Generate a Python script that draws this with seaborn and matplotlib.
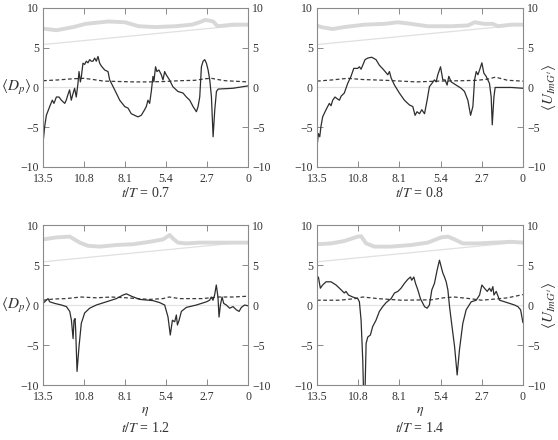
import matplotlib
matplotlib.use("Agg")
import matplotlib.pyplot as plt
import seaborn as sns

# x ticks (eta runs from 13.5 down to 0)
eta_ticks = [13.5, 10.8, 8.1, 5.4, 2.7, 0]
eta_ticklabels = ["13.5", "10.8", "8.1", "5.4", "2.7", "0"]
y_ticks = [-10, -5, 0, 5, 10]

# thin reference line, same in every panel
ref_eta = [13.5, 0.0]
ref_val = [5.4, 7.9]

# ---- t/T = 0.7 ----
dp_eta_07 = [13.5, 13.39, 13.28, 13.06, 12.89, 12.78, 12.62, 12.45, 12.29, 12.07, 11.97, 11.86, 11.75,
             11.64, 11.53, 11.42, 11.31, 11.2, 11.13, 11.04, 10.98, 10.87, 10.76, 10.65, 10.54, 10.43,
             10.32, 10.21, 10.1, 9.99, 9.88, 9.77, 9.66, 9.44, 9.22, 9.11, 8.78, 8.45, 8.12, 7.9, 7.69,
             7.47, 7.25, 7.03, 6.81, 6.7, 6.59, 6.48, 6.37, 6.26, 6.2, 6.09, 6.0, 5.87, 5.71, 5.6, 5.49,
             5.39, 5.17, 4.95, 4.62, 4.28, 4.06, 3.84, 3.62, 3.4, 3.29, 3.18, 3.07, 2.96, 2.85, 2.74,
             2.63, 2.52, 2.41, 2.3, 2.19, 2.08, 1.97, 0.99, 0.0]
dp_07 = [-7.0, -4.9, -3.5, -2.4, -1.6, -2.0, -1.2, -1.2, -1.6, -2.0, -1.6, -0.9, -0.3,
         -1.6, -0.8, -0.1, -1.2, 0.5, 2.0, 0.7, 1.3, 3.05, 2.9, 3.3, 3.1, 3.5,
         3.3, 3.3, 3.7, 3.3, 3.9, 3.05, 2.7, 2.2, 2.0, 0.95, -0.3, -1.6, -2.4, -2.6, -3.3,
         -3.5, -3.7, -3.5, -2.8, -2.4, -1.6, -2.0, -0.5, 1.4, 0.7, 2.6, 2.0, 2.2, 1.6, 0.95, 2.0,
         1.6, 0.95, 0.1, -0.5, -0.7, -1.2, -1.6, -2.4, -3.05, -2.4, -1.2, 2.6, 3.3, 3.5, 3.05,
         2.2, 0.95, -1.2, -6.2, -2.8, -0.5, -0.2, -0.1, 0.2]
dash_eta_07 = [13.5, 12.5, 11.5, 10.8, 10.2, 9.5, 8.5, 7.5, 6.5, 5.5, 4.5, 3.5, 2.8, 2.4, 2.0, 1.5, 0.5, 0.0]
dash_07 = [0.85, 0.95, 1.1, 1.15, 1.0, 0.8, 0.75, 0.7, 0.7, 0.75, 0.85, 0.9, 1.1, 1.15, 1.0, 0.85, 0.75, 0.7]
gray_eta_07 = [13.5, 12.6, 11.5, 10.7, 9.2, 8.1, 7.2, 6.1, 4.8, 3.7, 3.2, 2.8, 2.3, 2.0, 1.0, 0.0]
gray_07 = [7.4, 7.2, 7.6, 8.0, 8.3, 8.2, 7.7, 7.6, 7.7, 7.9, 8.2, 8.5, 8.3, 7.7, 7.9, 7.9]

# ---- t/T = 0.8 ----
dp_eta_08 = [13.5, 13.41, 13.32, 13.24, 13.13, 12.91, 12.69, 12.58, 12.47, 12.32, 12.19, 12.03, 11.92,
             11.71, 11.49, 11.27, 11.09, 10.83, 10.72, 10.61, 10.5, 10.35, 10.17, 9.91, 9.63, 9.41,
             9.12, 8.86, 8.75, 8.64, 8.42, 8.1, 7.77, 7.44, 7.22, 7.07, 6.94, 6.78, 6.63, 6.45, 6.28,
             6.13, 5.97, 5.8, 5.69, 5.58, 5.4, 5.25, 5.1, 4.97, 4.86, 4.7, 4.38, 4.05, 3.83, 3.61,
             3.43, 3.28, 3.17, 3.06, 2.95, 2.84, 2.69, 2.56, 2.41, 2.19, 2.08, 2.01, 1.9, 1.82, 0.76, 0.0]
dp_08 = [-7.5, -5.8, -6.2, -4.9, -3.7, -2.8, -2.0, -2.3, -1.6, -1.2, -1.4, -1.6, -1.1,
         -0.7, 0.5, 1.4, 2.4, 2.4, 2.6, 2.3, 2.8, 3.5, 3.7, 3.8, 3.5, 2.8,
         2.2, 1.6, 2.0, 1.2, 0.3, -0.7, -1.6, -2.2, -2.4, -3.5, -3.05, -3.3, -2.8, -3.3, -1.6,
         0.1, 0.5, 0.95, 0.7, 1.6, 2.6, 0.95, 0.95, 0.3, 1.4, 0.7, 0.3, -0.1, -0.5, -1.6,
         -3.5, -2.4, 0.95, 2.0, 1.6, 2.2, 3.1, 1.8, 1.4, 0.5, -1.2, -4.7, -1.2, 0.0, 0.0, -0.1]
dash_eta_08 = [13.5, 12.5, 11.5, 10.5, 9.0, 7.0, 5.5, 4.0, 3.0, 2.3, 1.8, 1.0, 0.0]
dash_08 = [0.8, 0.95, 1.15, 1.0, 0.9, 0.7, 0.8, 0.85, 0.9, 1.05, 1.3, 0.9, 0.8]
gray_eta_08 = [13.5, 13.24, 12.47, 11.71, 10.39, 9.08, 8.2, 7.33, 6.24, 4.71, 3.61, 3.17, 2.52, 1.97, 1.64, 0.76, 0.0]
gray_08 = [7.8, 7.6, 7.35, 7.6, 7.9, 8.0, 8.2, 8.0, 7.7, 7.7, 7.8, 8.2, 8.0, 8.0, 7.7, 7.9, 7.9]

# ---- t/T = 1.2 ----
dp_eta_12 = [13.5, 13.28, 13.17, 13.06, 12.73, 12.29, 11.96, 11.74, 11.63, 11.52, 11.46, 11.39, 11.35,
             11.26, 11.13, 10.98, 10.76, 10.43, 9.99, 9.33, 8.67, 8.23, 8.01, 7.68, 7.13, 6.26, 5.82,
             5.49, 5.27, 5.12, 4.98, 4.83, 4.72, 4.65, 4.54, 4.39, 4.06, 3.4, 2.74, 2.53, 2.42, 2.31,
             2.2, 2.09, 1.98, 1.91, 1.82, 1.71, 1.6, 1.43, 1.21, 0.99, 0.77, 0.59, 0.44, 0.22, 0.0]
dp_12 = [0.2, 0.6, 0.8, 0.4, 0.2, 0.0, -0.2, -0.8, -1.9, -4.2, -1.9, -1.7, -3.1,
         -8.3, -5.2, -2.3, -1.0, -0.4, 0.0, 0.4, 0.8, 1.25, 1.4, 1.1, 0.7, 0.55, 0.3,
         0.0, -1.5, -3.75, -1.9, -2.1, -1.25, -2.5, -1.9, -0.8, -0.3, 0.0, 0.4, 0.6, 1.0, 0.6,
         1.25, 2.5, 1.0, -1.5, 0.0, 1.0, 0.2, 0.0, -0.4, -0.2, -0.6, -0.8, -0.3, 0.0, -0.1]
dash_eta_12 = [13.5, 12.8, 12.0, 11.0, 10.0, 9.0, 8.0, 6.5, 5.6, 5.2, 4.5, 3.0, 2.0, 1.0, 0.0]
dash_12 = [0.6, 0.75, 0.8, 1.0, 0.9, 1.0, 0.9, 0.7, 0.8, 1.0, 0.8, 0.8, 1.0, 1.0, 1.1]
gray_eta_12 = [13.5, 12.62, 11.74, 11.52, 11.08, 10.54, 9.77, 8.67, 7.58, 6.48, 5.6, 5.16, 4.94, 4.61, 4.06,
               3.18, 2.09, 0.99, 0.0]
gray_12 = [8.2, 8.45, 8.55, 8.3, 7.8, 7.4, 7.3, 7.5, 7.6, 7.9, 8.2, 8.75, 8.3, 7.8, 7.7, 7.8, 7.8, 7.8, 7.8]

# ---- t/T = 1.4 ----
dp_eta_14 = [13.5, 13.41, 13.28, 13.13, 12.91, 12.58, 12.25, 11.92, 11.71, 11.6, 11.44, 11.16, 10.83,
             10.72, 10.61, 10.5, 10.44, 10.36, 10.28, 10.17, 10.0, 9.85, 9.63, 9.41, 9.19, 8.97, 8.64,
             8.42, 8.2, 7.99, 7.77, 7.55, 7.37, 7.29, 7.15, 7.04, 6.89, 6.72, 6.45, 6.28, 6.13, 5.97,
             5.8, 5.62, 5.47, 5.36, 5.25, 5.14, 5.03, 4.92, 4.81, 4.7, 4.48, 4.31, 4.16, 3.94, 3.72,
             3.39, 3.06, 2.84, 2.69, 2.52, 2.34, 2.19, 2.08, 1.97, 1.9, 1.75, 1.53, 1.2, 0.87, 0.55,
             0.33, 0.15, 0.0]
dp_14 = [3.3, 3.5, 2.1, 2.5, 2.9, 2.9, 2.5, 1.9, 1.5, 1.7, 1.25, 1.0, 0.8,
         0.4, -1.9, -6.9, -11.5, -11.5, -4.8, -4.0, -3.75, -2.7, -1.9, -0.8, -0.2, 0.3, 0.8,
         1.5, 1.7, 2.1, 2.7, 3.2, 3.5, 3.1, 3.5, 2.7, 1.9, 0.8, -0.2, -0.4, 0.0, 1.9,
         2.7, 4.4, 5.6, 4.8, 4.0, 3.5, 2.9, 1.9, -0.2, -1.9, -5.2, -8.75, -5.6, -2.3, -0.6,
         0.4, 0.6, 1.25, 2.5, 2.1, 1.7, 2.1, 1.7, 2.3, 1.25, 1.7, 0.6, 0.4, 0.2, 0.0,
         -0.2, -0.6, -2.2]
dash_eta_14 = [13.5, 12.0, 11.0, 10.5, 9.5, 8.0, 6.0, 5.2, 4.5, 3.5, 2.7, 1.5, 1.0, 0.0]
dash_14 = [0.6, 0.6, 0.8, 1.0, 0.8, 0.6, 0.65, 0.9, 1.0, 0.8, 0.6, 0.8, 0.9, 1.3]
gray_eta_14 = [13.5, 12.58, 11.71, 10.83, 10.61, 10.28, 9.74, 8.64, 7.33, 6.24, 5.36, 4.92, 4.48, 3.94, 2.95,
               1.86, 0.76, 0.0]
gray_14 = [7.6, 7.7, 8.0, 8.55, 8.6, 7.7, 7.3, 7.3, 7.5, 7.8, 8.45, 8.55, 8.2, 7.7, 7.7, 7.8, 7.9, 7.8]

titles = ["0.7", "0.8", "1.2", "1.4"]

sns.set_style("ticks")
plt.rcParams["font.family"] = ["Liberation Serif", "DejaVu Serif"]
plt.rcParams["mathtext.fontset"] = "stix"

fig = plt.figure(figsize=(5.58, 4.40), dpi=100)
positions = [
    [0.0771, 0.6205, 0.3674, 0.3614],
    [0.5681, 0.6205, 0.3690, 0.3614],
    [0.0771, 0.1250, 0.3674, 0.3636],
    [0.5681, 0.1250, 0.3690, 0.3636],
]
panels = [
    (dp_eta_07, dp_07, dash_eta_07, dash_07, gray_eta_07, gray_07),
    (dp_eta_08, dp_08, dash_eta_08, dash_08, gray_eta_08, gray_08),
    (dp_eta_12, dp_12, dash_eta_12, dash_12, gray_eta_12, gray_12),
    (dp_eta_14, dp_14, dash_eta_14, dash_14, gray_eta_14, gray_14),
]

spine_col = "#8a8a8a"
for i, (pos, pan) in enumerate(zip(positions, panels)):
    ax = fig.add_axes(pos)
    ex, dp, dx, dy, gx, gy = pan
    ax.axhline(0, color="#e3e3e3", lw=0.9, zorder=1)
    sns.lineplot(x=ref_eta, y=ref_val, ax=ax, color="#e0e0e0", lw=0.9, estimator=None, sort=False)
    sns.lineplot(x=gx, y=gy, ax=ax, color="#d8d8d8", lw=2.8, estimator=None, sort=False)
    sns.lineplot(x=dx, y=dy, ax=ax, color="#3a3a3a", lw=0.9, linestyle=(0, (3.0, 2.0)),
                 estimator=None, sort=False)
    sns.lineplot(x=ex, y=dp, ax=ax, color="#2e2e2e", lw=0.9, estimator=None, sort=False)

    ax.set_xlim(13.5, 0)
    ax.set_ylim(-10, 10)
    ax.set_xticks(eta_ticks)
    ax.set_xticklabels(eta_ticklabels)
    ax.set_yticks(y_ticks)
    ax.tick_params(direction="in", length=4, width=0.7, color=spine_col, labelsize=8.5,
                   labelcolor="#333333", top=True, right=True, labelright=True)
    ax.tick_params(axis="x", pad=4)
    ax.tick_params(axis="y", pad=3)
    for s in ax.spines.values():
        s.set_color(spine_col)
        s.set_linewidth(0.8)
    ax.set_xlabel("")
    ax.set_ylabel("")

    cx = pos[0] + pos[2] / 2
    if i < 2:
        fig.text(cx, 1 - 193 / 440, r"$t/T$ = " + titles[i], ha="center", va="center",
                 fontsize=10, color="#333333")
    else:
        fig.text(cx, 1 - 411 / 440, r"$\eta$", ha="center", va="center",
                 fontsize=10, color="#333333")
        fig.text(cx, 1 - 428 / 440, r"$t/T$ = " + titles[i], ha="center", va="center",
                 fontsize=10, color="#333333")

    y0 = pos[1] + pos[3] / 2
    if i % 2 == 0:
        fig.text(1 / 558, y0, r"$\langle D_p\rangle$", ha="left", va="center",
                 fontsize=11, color="#333333")
    else:
        fig.text(549 / 558, y0, r"$\langle U_{ImG^t}\rangle$", ha="center", va="center",
                 rotation=90, fontsize=11, color="#333333")

fig.savefig("out.png", dpi=100)
